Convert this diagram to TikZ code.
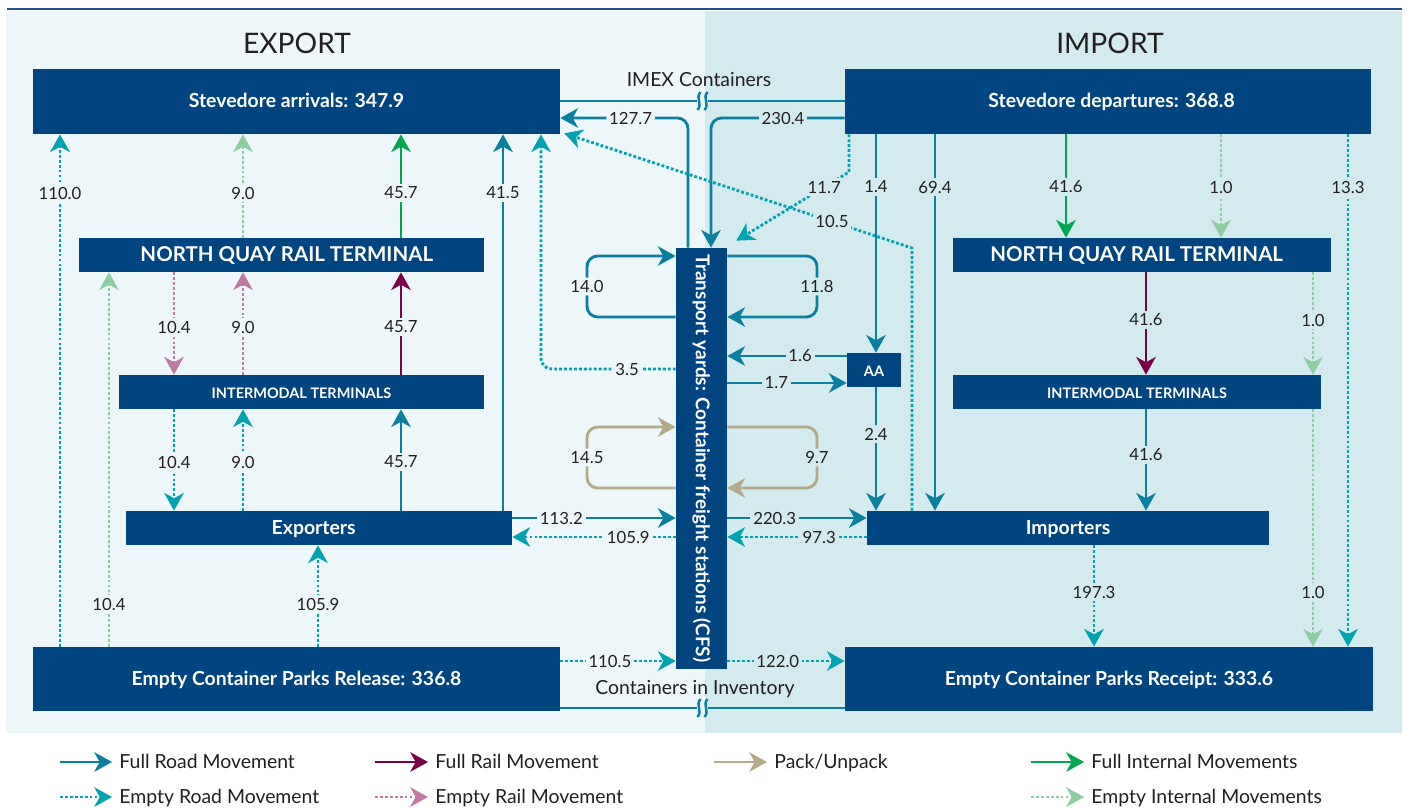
\documentclass[tikz,border=0pt]{standalone}
\usepackage{fontspec}
\setmainfont{Lato}
\usetikzlibrary{arrows.meta,fit}

\definecolor{bgL}{HTML}{EDF6F8}
\definecolor{bgR}{HTML}{D3EAEE}
\definecolor{boxblue}{HTML}{004580}
\definecolor{roadF}{HTML}{0A7FA0}
\definecolor{roadE}{HTML}{00A3AF}
\definecolor{railF}{HTML}{7A0048}
\definecolor{railE}{HTML}{BE7AA0}
\definecolor{packC}{HTML}{B2AA88}
\definecolor{intF}{HTML}{00A650}
\definecolor{intE}{HTML}{8DCDA2}
\definecolor{ink}{HTML}{231F20}
\definecolor{rulec}{HTML}{1F4E8C}

\tikzset{
  >={Stealth[length=10pt,width=11pt,inset=3pt]},
  flow/.style={line width=1.6pt,->},
  dots/.style={dash pattern=on 1.6pt off 1.2pt},
  froad/.style={flow,draw=roadF},
  eroad/.style={flow,draw=roadE,dots},
  frail/.style={flow,draw=railF},
  erail/.style={flow,draw=railE,dots},
  fint/.style={flow,draw=intF},
  eint/.style={flow,draw=intE,dots},
  packflow/.style={flow,draw=packC},
  loop/.style={rounded corners=6pt},
  plainline/.style={line width=1.6pt,draw=roadF},
  box/.style={fill=boxblue,inner sep=0pt},
  boxtext/.style={text=white,inner sep=0pt,text height=0.72em,text depth=0pt,font=\bfseries\fontsize{11}{13}\selectfont},
  bigboxtext/.style={boxtext,font=\bfseries\fontsize{11.6}{14}\selectfont},
  smallboxtext/.style={boxtext,font=\bfseries\fontsize{8.2}{10}\selectfont},
  lab/.style={font=\fontsize{9.5}{11}\selectfont,text=ink,inner sep=1.6pt},
  labL/.style={lab,fill=bgL},
  labR/.style={lab,fill=bgR},
  caption/.style={font=\fontsize{11}{13}\selectfont,text=ink,inner sep=1pt},
  title/.style={font=\fontsize{16}{19}\selectfont,text=ink},
  legtext/.style={font=\fontsize{11}{13}\selectfont,text=ink,anchor=west,inner sep=4pt,text height=0.72em,text depth=0pt},
}

% vertical break mark on a long line
\newcommand\squig[1]{%
  \draw[roadF,line width=1.4pt] ([shift={(1.5,-9)}]#1) .. controls ([shift={(-4,-3)}]#1) and ([shift={(4,3)}]#1) .. ([shift={(-1.5,9)}]#1);}

\begin{document}
\begin{tikzpicture}[x=0.5669pt,y=-0.5669pt]
\useasboundingbox (0,0) rectangle (1407,808);

% panels
\fill[bgL] (6,11) rectangle (705,733);
\fill[bgR] (705,11) rectangle (1402,733);
\draw[rulec,line width=1.1pt] (7,9) -- (1402,9);

\node[title] (exporttitle) at (297,43) {EXPORT};
\node[title] (importtitle) at (1110,43) {IMPORT};

% boxes
\node[box,fit={(33,69) (560,134)}] (sa) {};
\node[box,fit={(845,69) (1371,134)}] (sd) {};
\node[box,fit={(79,238) (484,272)}] (nql) {};
\node[box,fit={(953,238) (1331,272)}] (nqr) {};
\node[box,fit={(119,375) (484,409)}] (iml) {};
\node[box,fit={(953,375) (1321,409)}] (imr) {};
\node[box,fit={(126,511) (512,545)}] (exp) {};
\node[box,fit={(867,511) (1269,545)}] (imp) {};
\node[box,fit={(847,353) (901,387)}] (aa) {};
\node[box,fit={(33,647) (560,711)}] (ecpl) {};
\node[box,fit={(845,647) (1373,711)}] (ecpr) {};
\node[box,fit={(676,248) (727,669)}] (ty) {};

% box texts
\node[boxtext] (satext) at (sa.center) {Stevedore arrivals: 347.9};
\node[boxtext] (sdtext) at ([xshift=2pt]sd.center) {Stevedore departures: 368.8};
\node[bigboxtext] (nqltext) at ([xshift=3pt]nql.center) {NORTH QUAY RAIL TERMINAL};
\node[bigboxtext] (nqrtext) at ([xshift=-3pt]nqr.center) {NORTH QUAY RAIL TERMINAL};
\node[smallboxtext] (imltext) at (iml.center) {INTERMODAL TERMINALS};
\node[smallboxtext] (imrtext) at (imr.center) {INTERMODAL TERMINALS};
\node[boxtext] (exptext) at ([xshift=-3pt]exp.center) {Exporters};
\node[boxtext] (imptext) at (imp.center) {Importers};
\node[smallboxtext] (aatext) at (aa.center) {AA};
\node[boxtext] (ecpltext) at (ecpl.center) {Empty Container Parks Release: 336.8};
\node[boxtext] (ecprtext) at (ecpr.center) {Empty Container Parks Receipt: 333.6};
\node[rotate=-90,text=white,font=\bfseries\fontsize{10.8}{12}\selectfont] (tytext) at (ty.center) {Transport yards: Container freight stations (CFS)};

% guide rows and columns
\foreach \r in {101,118,172,187,193,248,256,317,320,327,356,369,383,427,434,455,462,488,518,537,592,604,661,708}
  \coordinate (r\r) at (0,\r);
\foreach \c in {60,109,174,243,318,401,503,541,587,688,697,699,706,708,711,817,849,876,912,935,1066,1094,1146,1221,1313,1348}
  \coordinate (c\c) at (\c,0);

% IMEX containers line with break
\draw[plainline] (sa.east |- r101) -- (c697 |- r101);
\draw[plainline] (c708 |- r101) -- (sd.west |- r101);
\squig{c699 |- r101}
\squig{c706 |- r101}
\node[caption] (imexlab) at (699,79) {IMEX Containers};

% containers in inventory line with break
\draw[plainline] (ecpl.east |- r708) -- (c697 |- r708);
\draw[plainline] (c708 |- r708) -- (ecpr.west |- r708);
\squig{c699 |- r708}
\squig{c706 |- r708}
\node[caption] (invlab) at (695,689) {Containers in Inventory};

% export side, vertical flows
\draw[eroad] (ecpl.north -| c60) -- (c60 |- r193) node[labL] {110.0} -- (sa.south -| c60);
\draw[eint] (nql.north -| c243) -- (c243 |- r193) node[labL] {9.0} -- (sa.south -| c243);
\draw[fint] (nql.north -| c401) -- (c401 |- r193) node[labL] {45.7} -- (sa.south -| c401);
\draw[froad] (exp.north -| c503) -- (c503 |- r193) node[labL] {41.5} -- (sa.south -| c503);
\draw[erail] (nql.south -| c174) -- (c174 |- r327) node[labL] {10.4} -- (iml.north -| c174);
\draw[erail] (iml.north -| c243) -- (c243 |- r327) node[labL] {9.0} -- (nql.south -| c243);
\draw[frail] (iml.north -| c401) -- (c401 |- r327) node[labL] {45.7} -- (nql.south -| c401);
\draw[eroad] (iml.south -| c174) -- (c174 |- r462) node[labL] {10.4} -- (exp.north -| c174);
\draw[eroad] (exp.north -| c243) -- (c243 |- r462) node[labL] {9.0} -- (iml.south -| c243);
\draw[froad] (exp.north -| c401) -- (c401 |- r462) node[labL] {45.7} -- (iml.south -| c401);
\draw[eint] (ecpl.north -| c109) -- (c109 |- r604) node[labL] {10.4} -- (nql.south -| c109);
\draw[eroad] (ecpl.north -| c318) -- (c318 |- r604) node[labL] {105.9} -- (exp.south -| c318);

% import side, vertical flows
\draw[froad] (sd.south -| c876) -- (c876 |- r187) node[labR] {1.4} -- (aa.north -| c876);
\draw[froad] (sd.south -| c935) -- (c935 |- r187) node[labR] {69.4} -- (imp.north -| c935);
\draw[fint] (sd.south -| c1066) -- (c1066 |- r187) node[labR] {41.6} -- (nqr.north -| c1066);
\draw[eint] (sd.south -| c1221) -- (c1221 |- r187) node[labR] {1.0} -- (nqr.north -| c1221);
\draw[eroad] (sd.south -| c1348) -- (c1348 |- r187) node[labR] {13.3} -- (ecpr.north -| c1348);
\draw[frail] (nqr.south -| c1146) -- (c1146 |- r320) node[labR] {41.6} -- (imr.north -| c1146);
\draw[eint] (nqr.south -| c1313) -- (c1313 |- r320) node[labR] {1.0} -- (imr.north -| c1313);
\draw[froad] (imr.south -| c1146) -- (c1146 |- r455) node[labR] {41.6} -- (imp.north -| c1146);
\draw[eint] (imr.south -| c1313) -- (c1313 |- r592) node[labR] {1.0} -- (ecpr.north -| c1313);
\draw[froad] (aa.south -| c876) -- (c876 |- r434) node[labR] {2.4} -- (imp.north -| c876);
\draw[eroad] (imp.south -| c1094) -- (c1094 |- r592) node[labR] {197.3} -- (ecpr.north -| c1094);

% flows between stevedores and transport yards
\draw[froad,loop] (ty.north -| c688) -- (c688 |- r118) -- node[labL,pos=0.45] {127.7} (sa.east |- r118);
\draw[froad,loop] (sd.west |- r118) -- (c711 |- r118) -- (ty.north -| c711);
\node[labR] (l2304) at (783,118) {230.4};
\draw[eroad,loop] (ty.west |- r369) -- node[labL,pos=0.36] {3.5} (c541 |- r369) -- (sa.south -| c541);
\draw[eroad] (sd.south -| c849) -- (c849 |- r172) -- node[labR,pos=0.22] {11.7} ([shift={(9,-7)}]ty.north east);
\draw[eroad] (imp.north -| c912) -- (c912 |- r248) -- node[labR,pos=0.23] {10.5} ([shift={(4,-1)}]sa.south east);

% loops at the transport yards
\draw[froad,loop] (ty.west |- r317) -- (c587 |- r317) -- node[labL] {14.0} (c587 |- r256) -- (ty.west |- r256);
\draw[froad,loop] (ty.east |- r256) -- (c817 |- r256) -- node[labR] {11.8} (c817 |- r317) -- (ty.east |- r317);
\draw[packflow,loop] (ty.west |- r488) -- (c587 |- r488) -- node[labL] {14.5} (c587 |- r427) -- (ty.west |- r427);
\draw[packflow,loop] (ty.east |- r427) -- (c817 |- r427) -- node[labR] {9.7} (c817 |- r488) -- (ty.east |- r488);

% transport yards and AA
\draw[froad] (aa.west |- r356) -- node[labR,pos=0.39] {1.6} (ty.east |- r356);
\draw[froad] (ty.east |- r383) -- node[labR,pos=0.41] {1.7} (aa.west |- r383);

% transport yards with exporters, importers and parks
\draw[froad] (exp.east |- r518) -- node[labL,pos=0.30] {113.2} (ty.west |- r518);
\draw[eroad] (ty.west |- r537) -- node[labL,pos=0.29] {105.9} (exp.east |- r537);
\draw[froad] (ty.east |- r518) -- node[labR,pos=0.34] {220.3} (imp.west |- r518);
\draw[eroad] (imp.west |- r537) -- node[labR,pos=0.34] {97.3} (ty.east |- r537);
\draw[eroad] (ecpl.east |- r661) -- node[labL,pos=0.43] {110.5} (ty.west |- r661);
\draw[eroad] (ty.east |- r661) -- node[labR,pos=0.43] {122.0} (ecpr.west |- r661);

% legend
\node[legtext] (lg1) at (112,762) {Full Road Movement};
\node[legtext] (lg2) at (428,762) {Full Rail Movement};
\node[legtext] (lg3) at (767,762) {Pack/Unpack};
\node[legtext] (lg4) at (1084,762) {Full Internal Movements};
\node[legtext] (lg5) at (112,797) {Empty Road Movement};
\node[legtext] (lg6) at (428,797) {Empty Rail Movement};
\node[legtext] (lg7) at (1084,797) {Empty Internal Movements};
\coordinate (lg1s) at (60,762);
\coordinate (lg2s) at (375,762);
\coordinate (lg3s) at (714,762);
\coordinate (lg4s) at (1031,762);
\coordinate (lg5s) at (60,797);
\coordinate (lg6s) at (375,797);
\coordinate (lg7s) at (1031,797);
\draw[froad] (lg1s) -- (lg1.west);
\draw[frail] (lg2s) -- (lg2.west);
\draw[packflow] (lg3s) -- (lg3.west);
\draw[fint] (lg4s) -- (lg4.west);
\draw[eroad] (lg5s) -- (lg5.west);
\draw[erail] (lg6s) -- (lg6.west);
\draw[eint] (lg7s) -- (lg7.west);
\end{tikzpicture}
\end{document}
